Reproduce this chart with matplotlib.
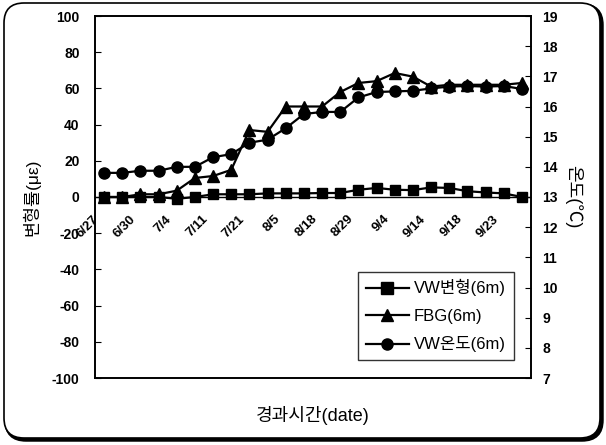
import matplotlib
matplotlib.use('Agg')
import matplotlib.pyplot as plt
from matplotlib.patches import FancyBboxPatch
from matplotlib.lines import Line2D

plt.rcParams['font.family'] = ['Liberation Sans', 'Noto Sans CJK KR', 'DejaVu Sans']
plt.rcParams['axes.unicode_minus'] = False

#------------------------------ data ------------------------------#
date_labels = ['6/27', '6/30', '7/4', '7/11', '7/21', '8/5', '8/18',
               '8/29', '9/4', '9/14', '9/18', '9/23']

# 24 measurements, one label every other point
vw_strain = [0, 0, 0, 0, -1, 0, 1.5, 1.5, 1.5, 2, 2, 2,
             2.2, 2.2, 4, 5, 4, 3.8, 5.3, 5, 3.2, 2.5, 2, 0]
fbg_strain = [0, 0, 1.5, 1.5, 3.5, 10.5, 11.6, 15, 37, 36, 50, 50,
              50, 58, 63, 64, 68.5, 66.5, 61, 62, 62, 62, 62, 63]
vw_temp = [13.8, 13.8, 13.87, 13.87, 14.0, 14.0, 14.32, 14.42, 14.8, 14.9, 15.28, 15.75,
           15.82, 15.82, 16.3, 16.48, 16.5, 16.52, 16.6, 16.66, 16.68, 16.66, 16.68, 16.58]

series_names = ['VW변형(6m)', 'FBG(6m)', 'VW온도(6m)']

x = list(range(len(vw_strain)))

#------------------------------ figure ------------------------------#
fig = plt.figure(figsize=(6.06, 4.45), dpi=100)

# rounded frame round the whole chart
bg = fig.add_axes([0, 0, 1, 1], zorder=-5)
bg.set_xlim(0, 606)
bg.set_ylim(445, 0)
bg.axis('off')
bg.add_patch(FancyBboxPatch((6, 5), 596, 435, boxstyle='round,pad=0,rounding_size=20',
                            facecolor='black', edgecolor='black', lw=2.5))
bg.add_patch(FancyBboxPatch((4, 3), 596, 435, boxstyle='round,pad=0,rounding_size=20',
                            facecolor='white', edgecolor='black', lw=1.2))

ax = fig.add_axes([95 / 606, 1 - 378 / 445, 436 / 606, 362 / 445])
ax2 = ax.twinx()

ax.plot(x, vw_strain, color='black', lw=1.6, marker='s', ms=7, zorder=3)
ax.plot(x, fbg_strain, color='black', lw=1.6, marker='^', ms=8, zorder=3)
ax2.plot(x, vw_temp, color='black', lw=1.6, marker='o', ms=8, zorder=3)

ax.set_xlim(-0.5, len(x) - 0.5)
ax.set_ylim(-100, 100)
ax2.set_ylim(7, 19)
ax.set_yticks(range(-100, 101, 20))
ax2.set_yticks(range(7, 20))

# category axis crosses at zero
ax.axhline(0, color='black', lw=1.0, zorder=2)
ax.set_xticks([])
for i, lab in enumerate(date_labels):
    ax.annotate(lab, xy=(2 * i - 0.5, 0), xytext=(-1.5, -11.5), textcoords='offset points',
                rotation=45, ha='right', va='top', rotation_mode='anchor',
                fontsize=9.5, fontweight='bold')

ax.tick_params(axis='y', direction='in', length=4, pad=11, labelsize=10)
ax2.tick_params(axis='y', direction='in', length=4, pad=8, labelsize=10)
for t in ax.get_yticklabels() + ax2.get_yticklabels():
    t.set_fontweight('bold')
for sp in list(ax.spines.values()) + list(ax2.spines.values()):
    sp.set_linewidth(1.2)

ax.set_ylabel('변형률(με)', fontsize=12.5, labelpad=8)
ax2.set_ylabel('온도(℃)', fontsize=13, rotation=270, labelpad=18)
ax.set_xlabel('경과시간(date)', fontsize=13)
ax.xaxis.set_label_coords(0.5, -0.078)

handles = [Line2D([], [], color='black', lw=1.6, marker='s', ms=8),
           Line2D([], [], color='black', lw=1.6, marker='^', ms=8),
           Line2D([], [], color='black', lw=1.6, marker='o', ms=8)]
leg = ax2.legend(handles, series_names, loc='lower right', bbox_to_anchor=(0.96, 0.05),
                 fontsize=12, frameon=True, fancybox=False, edgecolor='black',
                 handlelength=2.6, borderpad=0.45, labelspacing=0.75, handletextpad=0.3,
                 borderaxespad=0)
leg.get_frame().set_linewidth(1.0)

fig.savefig('out.png', dpi=100)
